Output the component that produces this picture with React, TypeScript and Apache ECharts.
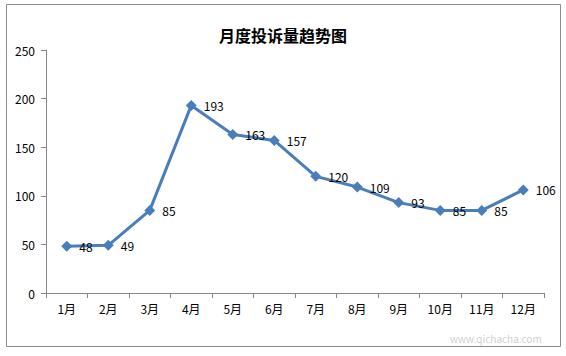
import React, { useEffect, useRef } from "react";
import * as echarts from "echarts";

const categories = ["1月", "2月", "3月", "4月", "5月", "6月", "7月", "8月", "9月", "10月", "11月", "12月"];
const values = [48, 49, 85, 193, 163, 157, 120, 109, 93, 85, 85, 106];
const yTicks = { min: 0, max: 250, interval: 50 };
const title = "月度投诉量趋势图";
const watermark = "www.qichacha.com";

export default function App() {
  const ref = useRef<HTMLDivElement>(null);
  useEffect(() => {
    if (!ref.current) return;
    const chart = echarts.init(ref.current, null, { renderer: "svg" });
    const font = "'Noto Sans CJK SC', 'DejaVu Sans', sans-serif";
    chart.setOption({
      animation: false,
      backgroundColor: "#ffffff",
      title: {
        text: title,
        left: "center",
        top: 22,
        textStyle: { fontFamily: font, fontSize: 16, fontWeight: "bold", color: "#000" },
      },
      graphic: [
        {
          type: "rect",
          shape: { x: 6.5, y: 4.5, width: 554, height: 342 },
          style: { fill: "none", stroke: "#8c8c8c", lineWidth: 1 },
          silent: true,
        },
        {
          type: "text",
          x: 450,
          y: 333,
          style: { text: watermark, fill: "#cfcfcf", fontSize: 10, fontFamily: font },
          silent: true,
        },
      ],
      grid: { left: 46, right: 22, top: 50, bottom: 63 },
      xAxis: {
        type: "category",
        data: categories,
        boundaryGap: true,
        axisLine: { lineStyle: { color: "#868686" } },
        axisTick: { show: true, alignWithLabel: false, length: 5, lineStyle: { color: "#868686" } },
        axisLabel: { color: "#000", fontFamily: font, fontSize: 12, margin: 9, interval: 0 },
      },
      yAxis: {
        type: "value",
        min: yTicks.min,
        max: yTicks.max,
        interval: yTicks.interval,
        axisLine: { show: true, lineStyle: { color: "#868686" } },
        axisTick: { show: true, length: 5, lineStyle: { color: "#868686" } },
        splitLine: { show: false },
        axisLabel: { color: "#000", fontFamily: font, fontSize: 12, margin: 11 },
      },
      series: [
        {
          type: "line",
          data: values,
          symbol: "diamond",
          symbolSize: 11,
          lineStyle: { color: "#4a7ebb", width: 3 },
          itemStyle: { color: "#4a7ebb" },
          label: {
            show: true,
            position: "right",
            distance: 7,
            color: "#000",
            fontFamily: font,
            fontSize: 12,
          },
        },
      ],
    });
    return () => chart.dispose();
  }, []);
  return (
    <div
      ref={ref}
      style={{ position: "fixed", left: 0, top: 0, width: 566, height: 356 }}
    />
  );
}
